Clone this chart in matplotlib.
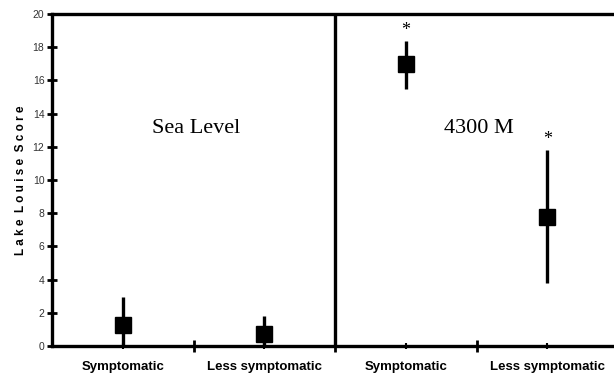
import matplotlib.pyplot as plt
from matplotlib.ticker import FixedLocator

categories = ["Symptomatic", "Less symptomatic", "Symptomatic", "Less symptomatic"]
means = [1.27, 0.75, 17.0, 7.8]
err_low = [0.0, 0.0, 15.5, 3.8]
err_high = [2.95, 1.8, 18.4, 11.8]
signif = [False, False, True, True]
panel_labels = ["Sea Level", "4300 M"]

W, H = 614, 381
fig = plt.figure(figsize=(W / 100, H / 100), dpi=100)
ax = fig.add_axes([52 / W, 35 / H, 566 / W, 332 / H])

x = list(range(len(categories)))
yerr = [[m - lo for m, lo in zip(means, err_low)],
        [hi - m for m, hi in zip(means, err_high)]]
ax.errorbar(x, means, yerr=yerr, fmt='s', color='black', ms=12,
            elinewidth=2.4, capsize=0, zorder=3)

for xi, hi, s in zip(x, err_high, signif):
    if s:
        ax.text(xi, hi + 0.1, "*", ha='center', va='bottom',
                fontsize=13, family='Liberation Serif')

ax.text(0.52, 13.1, panel_labels[0], ha='center', va='center',
        fontsize=16, family='Liberation Serif')
ax.text(2.52, 13.1, panel_labels[1], ha='center', va='center',
        fontsize=16, family='Liberation Serif')

ax.axvline(1.5, color='black', lw=2.4)

ax.set_xlim(-0.5, 3.5)
ax.set_ylim(0, 20)
ax.set_yticks(range(0, 21, 2))
ax.set_xticks(x)
ax.set_xticklabels(categories, fontsize=9.5, fontweight='bold',
                   family='Liberation Sans')
ax.xaxis.set_minor_locator(FixedLocator([0.5, 1.5, 2.5]))
ax.tick_params(axis='x', which='major', length=4, width=1.5,
               direction='inout', pad=9)
ax.tick_params(axis='x', which='minor', length=8, width=2, direction='inout')
ax.tick_params(axis='y', length=7, width=2, direction='inout',
               labelsize=7.5, labelcolor='#333333', pad=2)
for lab in ax.get_yticklabels():
    lab.set_family('Liberation Sans')

ax.set_ylabel("L a k e  L o u i s e  S c o r e", fontsize=8.5,
              fontweight='bold', family='Liberation Sans', labelpad=4)

for side in ['left', 'bottom', 'top']:
    ax.spines[side].set_linewidth(2.4)
ax.spines['right'].set_visible(False)

fig.savefig("out.png", dpi=100)
